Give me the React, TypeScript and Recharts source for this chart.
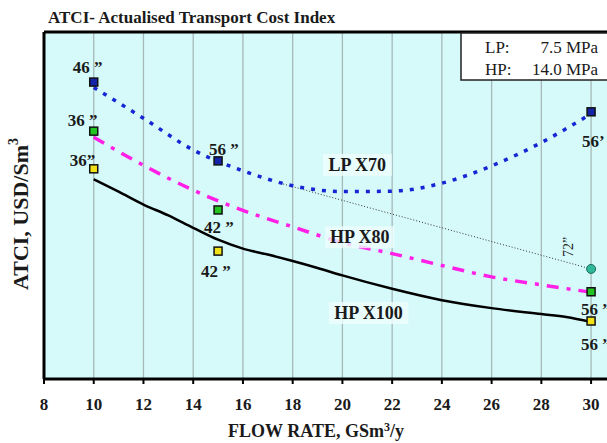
import React from 'react';
import { ComposedChart, Line, Scatter, XAxis, YAxis, CartesianGrid, ReferenceLine } from 'recharts';

// ---- data ----
const FLOW_TICKS = [8, 10, 12, 14, 16, 18, 20, 22, 24, 26, 28, 30];
const ATCI_TICKS = [0, 1, 2, 3, 4, 5, 6, 7];

const LP_X70_FLOW = [10, 12, 14, 16, 18, 20, 22, 24, 26, 28, 30];
const LP_X70_ATCI = [5.88, 5.26, 4.62, 4.2, 3.9, 3.78, 3.79, 3.95, 4.3, 4.77, 5.35];

const HP_X80_FLOW = [10, 12, 14, 16, 18, 20, 22, 24, 26, 28, 30];
const HP_X80_ATCI = [4.88, 4.31, 3.81, 3.4, 3.07, 2.75, 2.53, 2.29, 2.06, 1.9, 1.75];

const HP_X100_FLOW = [10, 11, 12, 13, 14, 15, 16, 17, 18, 19, 20, 22, 24, 26, 28, 29, 30];
const HP_X100_ATCI = [4.03, 3.78, 3.52, 3.3, 3.05, 2.81, 2.63, 2.51, 2.38, 2.24, 2.09, 1.82, 1.59, 1.43, 1.31, 1.25, 1.15];

const MARKER_FLOW = [10, 15, 30];
const LP_MARKER_ATCI = [5.99, 4.4, 5.39];
const X80_MARKER_ATCI = [5.0, 3.41, 1.76];
const X100_MARKER_ATCI = [4.24, 2.58, 1.17];
const LP_SIZES = ['46 \u201D', '56 \u201D', '56\u2019'];
const X80_SIZES = ['36 \u201D', '42 \u201D', '56 \u201D'];
const X100_SIZES = ['36\u201D', '42 \u201D', '56 \u201D'];

const ALT_FLOW = [17.5, 30];
const ALT_ATCI = [3.95, 2.22];
const ALT_SIZE = '72\u201D';

const SERIES_NAMES = ['LP X70', 'HP X80', 'HP X100'];
const SERIES_NAME_FLOW = [20.6, 20.7, 21.05];
const SERIES_NAME_ATCI = [4.32, 2.86, 1.33];

// ---- built tables ----
const toXY = (xs: number[], ys: number[]) => xs.map((x, i) => ({ x, y: ys[i] }));
const lpData = toXY(LP_X70_FLOW, LP_X70_ATCI);
const x80Data = toXY(HP_X80_FLOW, HP_X80_ATCI);
const x100Data = toXY(HP_X100_FLOW, HP_X100_ATCI);
const altLine = toXY(ALT_FLOW, ALT_ATCI);
const mk = (ys: number[], labels: string[]) => MARKER_FLOW.map((x, i) => ({ x, y: ys[i], label: labels[i] }));
const lpMarkers = mk(LP_MARKER_ATCI, LP_SIZES);
const x80Markers = mk(X80_MARKER_ATCI, X80_SIZES);
const x100Markers = mk(X100_MARKER_ATCI, X100_SIZES);
const altMarker = [{ x: ALT_FLOW[1], y: ALT_ATCI[1], label: ALT_SIZE }];
const nameData = SERIES_NAMES.map((t, i) => ({ x: SERIES_NAME_FLOW[i], y: SERIES_NAME_ATCI[i], label: t }));

// ---- styles ----
const FONT = '"Liberation Serif", "Times New Roman", serif';
const LABEL_OFFSETS: Record<string, number[][]> = {
  lp: [[-21, -9], [-9, -6], [-9, 35]],
  x80: [[-26, -5], [-14, 23], [-10, 23]],
  x100: [[-24, -3], [-17, 26], [-10, 29]],
};

const makeMarker = (fill: string, key: string) => (props: any) => {
  const { cx, cy, payload } = props;
  if (cx == null || cy == null) return <g />;
  const idx = MARKER_FLOW.indexOf(payload.x);
  const off = LABEL_OFFSETS[key][idx] || [0, 0];
  return (
    <g>
      <rect x={cx - 4} y={cy - 4} width={8} height={8} fill={fill} stroke="#111" strokeWidth={1.5} />
      <text x={cx + off[0]} y={cy + off[1]} fontFamily={FONT} fontWeight="bold" fontSize={17} fill="#1a1a1a">
        {payload.label}
      </text>
    </g>
  );
};

const altShape = (props: any) => {
  const { cx, cy, payload } = props;
  if (cx == null || cy == null) return <g />;
  const tx = cx - 23;
  const ty = cy - 22;
  return (
    <g>
      <circle cx={cx} cy={cy} r={4.5} fill="#2fb89a" stroke="#1b6b5a" strokeWidth={1} />
      <text x={tx} y={ty} transform={`rotate(-90 ${tx} ${ty})`} textAnchor="middle" dominantBaseline="central"
        fontFamily={FONT} fontSize={14} fill="#222">
        {payload.label}
      </text>
    </g>
  );
};

const nameShape = (props: any) => {
  const { cx, cy, payload } = props;
  if (cx == null || cy == null) return <g />;
  const w = payload.label.length * 10.5 + 6;
  return (
    <g>
      <rect x={cx - w / 2} y={cy - 11} width={w} height={22} fill="#effefe" opacity={0.8} />
      <text x={cx} y={cy} textAnchor="middle" dominantBaseline="central" fontFamily={FONT}
        fontWeight="bold" fontSize={18} fill="#1a1a1a">
        {payload.label}
      </text>
    </g>
  );
};

export default function App() {
  return (
    <div style={{ position: 'absolute', left: 0, top: 0, width: 607, height: 443, background: '#fff', overflow: 'hidden' }}>
      <ComposedChart width={607} height={443} margin={{ top: 32, right: 0, left: 0, bottom: 0 }}>
        <CartesianGrid fill="#d6fafa" stroke="#a6b8b8" strokeWidth={1.3} verticalValues={FLOW_TICKS} horizontalValues={ATCI_TICKS} />
        <XAxis
          type="number"
          dataKey="x"
          domain={[8, 30.64]}
          ticks={FLOW_TICKS}
          allowDataOverflow
          height={64}
          axisLine={{ stroke: '#000', strokeWidth: 3 }}
          tickLine={{ stroke: '#000', strokeWidth: 2 }}
          tickSize={5}
          tickMargin={14}
          tick={{ fontFamily: FONT, fontWeight: 'bold', fontSize: 17, fill: '#1a1a1a' }}
        />
        <YAxis
          type="number"
          dataKey="y"
          domain={[0, 7]}
          ticks={ATCI_TICKS}
          allowDataOverflow
          width={44}
          axisLine={{ stroke: '#000', strokeWidth: 3 }}
          tickLine={{ stroke: '#000', strokeWidth: 1.5 }}
          tickSize={5}
          tick={false}
        />
        <ReferenceLine y={7} stroke="#000" strokeWidth={3} />
        <Line data={altLine} dataKey="y" type="linear" stroke="#333" strokeWidth={1} strokeDasharray="1 2" dot={false} isAnimationActive={false} />
        <Line data={x100Data} dataKey="y" type="monotone" stroke="#000" strokeWidth={2.5} dot={false} isAnimationActive={false} />
        <Line data={x80Data} dataKey="y" type="monotone" stroke="#ff1fe6" strokeWidth={3.5} strokeDasharray="12 8 4 8" dot={false} isAnimationActive={false} />
        <Line data={lpData} dataKey="y" type="monotone" stroke="#1626d4" strokeWidth={3.5} strokeDasharray="4 7" dot={false} isAnimationActive={false} />
        <Scatter data={nameData} shape={nameShape} isAnimationActive={false} />
        <Scatter data={altMarker} shape={altShape} isAnimationActive={false} />
        <Scatter data={lpMarkers} shape={makeMarker('#1424a8', 'lp')} isAnimationActive={false} />
        <Scatter data={x80Markers} shape={makeMarker('#22c422', 'x80')} isAnimationActive={false} />
        <Scatter data={x100Markers} shape={makeMarker('#f2e21a', 'x100')} isAnimationActive={false} />
      </ComposedChart>
      <svg width={607} height={443} style={{ position: 'absolute', left: 0, top: 0, pointerEvents: 'none' }}>
        <text x={48} y={23} fontFamily={FONT} fontWeight="bold" fontSize={17} fill="#1a1a1a">
          ATCI- Actualised Transport Cost Index
        </text>
        <text x={20} y={214} transform="rotate(-90 20 214)" textAnchor="middle" dominantBaseline="central"
          fontFamily={FONT} fontWeight="bold" fontSize={22} fill="#1a1a1a">
          ATCI, USD/Sm<tspan fontSize={14} dy={-7}>3</tspan>
        </text>
        <text x={316} y={437} textAnchor="middle" fontFamily={FONT} fontWeight="bold" fontSize={18} fill="#1a1a1a">
          FLOW RATE, GSm<tspan fontSize={12} dy={-6}>3</tspan><tspan dy={6}>/y</tspan>
        </text>
        <rect x={461} y={33} width={150} height={47} fill="#fff" stroke="#222" strokeWidth={1.5} />
        <text x={485} y={53} fontFamily={FONT} fontSize={17} fill="#1a1a1a">LP:</text>
        <text x={598} y={53} textAnchor="end" fontFamily={FONT} fontSize={17} fill="#1a1a1a">7.5 MPa</text>
        <text x={485} y={75} fontFamily={FONT} fontSize={17} fill="#1a1a1a">HP:</text>
        <text x={598} y={75} textAnchor="end" fontFamily={FONT} fontSize={17} fill="#1a1a1a">14.0 MPa</text>
      </svg>
    </div>
  );
}
